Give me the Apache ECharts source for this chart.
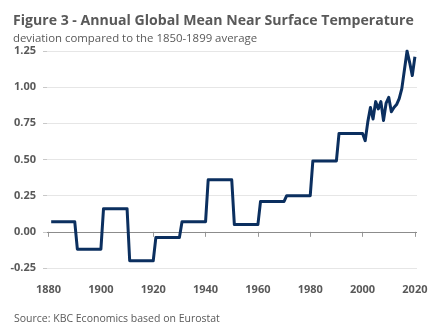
<!DOCTYPE html>
<html>
<head>
<meta charset="utf-8">
<script src="https://cdn.jsdelivr.net/npm/echarts@6/dist/echarts.min.js"></script>
<style>
  html, body { margin: 0; padding: 0; background: #ffffff; }
  #chart { width: 432px; height: 334px; }
</style>
</head>
<body>
<div id="chart"></div>
<script>
// Decade means (each decade drawn as a flat step, first year to last year)
const decadeStart = [1881, 1891, 1901, 1911, 1921, 1931, 1941, 1951, 1961, 1971, 1981, 1991];
const decadeMean  = [0.07, -0.12, 0.16, -0.20, -0.04, 0.07, 0.36, 0.05, 0.21, 0.25, 0.49, 0.68];

// Annual values since 2001
const annualYears  = [2001, 2002, 2003, 2004, 2005, 2006, 2007, 2008, 2009, 2010,
                      2011, 2012, 2013, 2014, 2015, 2016, 2017, 2018, 2019, 2020];
const annualValues = [0.63, 0.76, 0.86, 0.78, 0.90, 0.85, 0.90, 0.77, 0.89, 0.93,
                      0.83, 0.86, 0.88, 0.92, 0.99, 1.12, 1.25, 1.17, 1.08, 1.21];

// Axis tick labels
const xTicks = [1880, 1900, 1920, 1940, 1960, 1980, 2000, 2020];

const TEXT = '#595959';
const FONT = '"Open Sans", "Liberation Sans", sans-serif';

const points = [];
decadeStart.forEach((y, i) => {
  points.push([y, decadeMean[i]]);
  points.push([y + 9, decadeMean[i]]);
});
annualYears.forEach((y, i) => points.push([y, annualValues[i]]));

const chart = echarts.init(document.getElementById('chart'), null, { renderer: 'canvas' });
chart.setOption({
  animation: false,
  backgroundColor: '#ffffff',
  textStyle: { fontFamily: FONT },
  title: [
    {
      text: 'Figure 3 - Annual Global Mean Near Surface Temperature',
      left: 8, top: 9,
      textStyle: { fontFamily: FONT, fontSize: 14.1, fontWeight: 'bold', color: TEXT }
    },
    {
      text: 'deviation compared to the 1850-1899 average',
      left: 8, top: 28,
      textStyle: { fontFamily: FONT, fontSize: 11.4, fontWeight: 'normal', color: TEXT }
    },
    {
      text: 'Source: KBC Economics based on Eurostat',
      left: 9, top: 309,
      textStyle: { fontFamily: FONT, fontSize: 10.5, fontWeight: 'normal', color: TEXT }
    }
  ],
  grid: {
    left: 47, right: 15, top: 51, bottom: 66,
    containLabel: false,
    outerBoundsMode: 'none'
  },
  xAxis: {
    type: 'value',
    min: 1879.4,
    max: 2020.8,
    offset: 8,
    axisLine: { show: false },
    axisTick: {
      show: true, length: 5, customValues: xTicks,
      lineStyle: { color: '#999999', width: 1 }
    },
    axisLabel: {
      customValues: xTicks, margin: 8,
      fontFamily: FONT, fontSize: 11, fontWeight: 'bold', color: TEXT,
      formatter: v => String(Math.round(v))
    },
    splitLine: { show: false }
  },
  yAxis: {
    type: 'value',
    min: -0.25,
    max: 1.25,
    interval: 0.25,
    axisLine: { show: false },
    axisTick: { show: true, length: 4, lineStyle: { color: '#c8c8c8' } },
    axisLabel: {
      margin: 11,
      fontFamily: FONT, fontSize: 11, fontWeight: 'bold', color: TEXT,
      formatter: v => v.toFixed(2)
    },
    splitLine: { show: true, lineStyle: { color: '#e6e6e6', width: 1 } }
  },
  series: [
    {
      type: 'line',
      data: points,
      showSymbol: false,
      symbol: 'none',
      lineStyle: { color: '#0b2f5f', width: 3, join: 'round' },
      z: 3,
      markLine: {
        silent: true,
        symbol: 'none',
        label: { show: false },
        lineStyle: { color: '#8c8c8c', width: 1, type: 'solid' },
        z: 2,
        data: [{ yAxis: 0 }]
      }
    }
  ]
});
</script>
</body>
</html>
